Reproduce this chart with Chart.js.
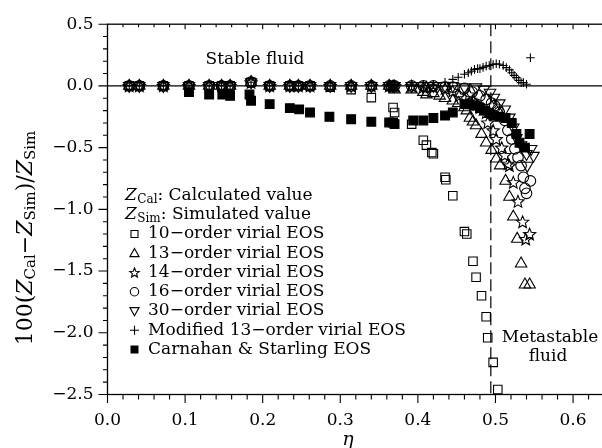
<!DOCTYPE html>
<html><head><meta charset="utf-8">
<script src="https://cdn.jsdelivr.net/npm/chart.js@4.4.0/dist/chart.umd.min.js"></script>
<style>html,body{margin:0;padding:0;background:#fff;overflow:hidden;width:602px;height:448px}canvas{display:block}</style>
</head><body><canvas id="c" width="612" height="448"></canvas>
<script>
// ---- data (η, 100(Zcal-Zsim)/Zsim) ----
const eta10 = [0.028,0.041,0.072,0.105,0.131,0.147,0.158,0.185,0.209,0.235,0.246,0.261,0.287,0.314,0.340,0.368,0.370,0.392,0.407,0.411,0.418,0.420,0.435,0.436,0.445,0.460,0.463,0.471,0.475,0.482,0.488,0.490,0.497,0.503];
const dev10 = [0,0,0,0,0,0,0,0.03,0,0,0,0,-0.01,-0.03,-0.095,-0.175,-0.215,-0.31,-0.44,-0.48,-0.54,-0.55,-0.74,-0.76,-0.89,-1.18,-1.20,-1.42,-1.55,-1.70,-1.87,-2.04,-2.24,-2.46];

const eta13 = [0.028,0.041,0.072,0.105,0.131,0.147,0.158,0.185,0.209,0.235,0.246,0.261,0.287,0.314,0.340,0.363,0.368,0.370,0.392,0.407,0.411,0.420,0.428,0.435,0.445,0.452,0.460,0.463,0.467,0.471,0.475,0.482,0.488,0.495,0.501,0.506,0.513,0.518,0.523,0.528,0.533,0.538,0.544];
const dev13 = [0,0,0,0,0,0,0,0.03,0,0,0,0,0,0,0,0,-0.01,-0.03,-0.03,-0.05,-0.07,-0.06,-0.08,-0.10,-0.12,-0.14,-0.175,-0.20,-0.26,-0.29,-0.32,-0.39,-0.46,-0.52,-0.59,-0.645,-0.77,-0.90,-1.06,-1.24,-1.44,-1.61,-1.61];

const eta14 = [0.028,0.041,0.072,0.105,0.131,0.147,0.158,0.185,0.209,0.235,0.246,0.261,0.287,0.314,0.340,0.363,0.368,0.370,0.392,0.407,0.411,0.420,0.435,0.445,0.453,0.460,0.466,0.471,0.476,0.480,0.484,0.488,0.490,0.497,0.501,0.508,0.512,0.516,0.518,0.523,0.529,0.535,0.539,0.544];
const dev14 = [0,0,0,0,0,0,0,0.03,0,0,0,0,0,0,0,0,0,0,0,-0.01,-0.01,-0.01,-0.02,-0.04,-0.08,-0.10,-0.07,-0.12,-0.15,-0.175,-0.19,-0.215,-0.296,-0.36,-0.43,-0.50,-0.56,-0.63,-0.645,-0.78,-0.935,-1.10,-1.24,-1.20];

const eta16 = [0.028,0.041,0.072,0.105,0.131,0.147,0.158,0.185,0.209,0.235,0.246,0.261,0.287,0.314,0.340,0.363,0.368,0.370,0.392,0.407,0.420,0.435,0.445,0.460,0.470,0.480,0.488,0.495,0.499,0.503,0.505,0.512,0.516,0.521,0.525,0.529,0.533,0.536,0.538,0.540,0.545];
const dev16 = [0,0,0,0,0,0,0,0.03,0,0,0,0,0,0,0,0,0,0,0,0,0,-0.01,-0.01,-0.02,-0.05,-0.08,-0.11,-0.14,-0.16,-0.19,-0.215,-0.28,-0.36,-0.43,-0.51,-0.58,-0.645,-0.74,-0.83,-0.87,-0.77];

const eta30 = [0.028,0.041,0.072,0.105,0.131,0.147,0.158,0.185,0.209,0.235,0.246,0.261,0.287,0.314,0.340,0.363,0.368,0.370,0.392,0.407,0.420,0.435,0.445,0.460,0.475,0.485,0.493,0.498,0.505,0.512,0.518,0.523,0.527,0.533,0.540,0.546,0.549,0.541];
const dev30 = [0,0,0,0,0,0,0,0.03,0,0,0,0,0,0,0,0,0,0,0,0,0,0,0,-0.01,-0.01,-0.03,-0.054,-0.094,-0.14,-0.19,-0.255,-0.336,-0.42,-0.48,-0.55,-0.51,-0.565,-0.645];

const etaMod = [0.028,0.041,0.072,0.105,0.131,0.147,0.158,0.185,0.209,0.235,0.246,0.261,0.287,0.314,0.340,0.363,0.368,0.370,0.392,0.407,0.420,0.435,0.445,0.452,0.460,0.465,0.469,0.473,0.477,0.480,0.484,0.488,0.492,0.497,0.501,0.505,0.510,0.514,0.518,0.521,0.524,0.527,0.530,0.533,0.536,0.540,0.545];
const devMod = [0,0,0,0,0,0,0,0.03,0,0,0,0,0,0,0,0,0,0,0,0.005,0.01,0.03,0.053,0.07,0.094,0.107,0.12,0.134,0.14,0.14,0.15,0.16,0.165,0.174,0.18,0.176,0.166,0.148,0.13,0.107,0.085,0.067,0.045,0.027,0.027,0.013,0.228];

const etaCS = [0.105,0.131,0.148,0.158,0.183,0.185,0.209,0.235,0.247,0.261,0.286,0.314,0.340,0.363,0.368,0.370,0.394,0.407,0.420,0.435,0.445,0.460,0.467,0.473,0.480,0.486,0.492,0.498,0.505,0.513,0.521,0.527,0.531,0.538,0.544];
const devCS = [-0.05,-0.07,-0.07,-0.08,-0.07,-0.12,-0.148,-0.18,-0.19,-0.215,-0.25,-0.27,-0.29,-0.296,-0.296,-0.31,-0.28,-0.28,-0.26,-0.24,-0.215,-0.148,-0.15,-0.16,-0.18,-0.20,-0.22,-0.24,-0.25,-0.26,-0.30,-0.39,-0.46,-0.50,-0.39];

const freezeEta = 0.494;
const legendLabels = ['10\u2212order virial EOS','13\u2212order virial EOS','14\u2212order virial EOS','16\u2212order virial EOS','30\u2212order virial EOS','Modified 13\u2212order virial EOS','Carnahan & Starling EOS'];

// ---- helpers ----
const SERIF = '"DejaVu Serif", serif';
const pts = (xs, ys) => xs.map((v, i) => ({x: v, y: ys[i]}));

function starPath(ctx, x, y, r){
  ctx.beginPath();
  for (let k = 0; k < 10; k++) {
    const a = -Math.PI/2 + k*Math.PI/5;
    const rr = k % 2 ? r*0.45 : r;
    ctx.lineTo(x + rr*Math.cos(a), y + rr*Math.sin(a));
  }
  ctx.closePath();
}

const STAR_INDEX = 2;
const base = {showLine:false, borderColor:'#000', borderWidth:1.1, backgroundColor:'rgba(0,0,0,0)'};
const datasets = [
  {...base, label:legendLabels[0], data:pts(eta10,dev10), pointStyle:'rect', pointRadius:6},
  {...base, label:legendLabels[1], data:pts(eta13,dev13), pointStyle:'triangle', pointRadius:6.6},
  {...base, label:legendLabels[2], data:pts(eta14,dev14), pointStyle:'circle', pointRadius:0, starRadius:6.4},
  {...base, label:legendLabels[3], data:pts(eta16,dev16), pointStyle:'circle', pointRadius:5.3},
  {...base, label:legendLabels[4], data:pts(eta30,dev30), pointStyle:'triangle', pointRotation:180, pointRadius:6.6},
  {...base, label:legendLabels[5], data:pts(etaMod,devMod), pointStyle:'cross', pointRadius:4.3},
  {...base, label:legendLabels[6], data:pts(etaCS,devCS), pointStyle:'rect', pointRadius:6.2, backgroundColor:'#000'}
];

function drawSub(ctx, x, y, main, sub, size, subSize, drop){
  ctx.font = 'italic ' + size + 'px ' + SERIF;
  ctx.fillText(main, x, y); x += ctx.measureText(main).width + 0.5;
  ctx.font = subSize + 'px ' + SERIF;
  ctx.fillText(sub, x, y + drop); x += ctx.measureText(sub).width;
  return x;
}

function legendSymbol(ctx, kind, x, y){
  ctx.save(); ctx.lineWidth = 1.1; ctx.strokeStyle = '#000'; ctx.fillStyle = '#000';
  ctx.beginPath();
  if (kind === 0) { ctx.rect(x-3.5, y-3.5, 7, 7); ctx.stroke(); }
  else if (kind === 1) { ctx.moveTo(x, y-4.8); ctx.lineTo(x+4.6, y+3.4); ctx.lineTo(x-4.6, y+3.4); ctx.closePath(); ctx.stroke(); }
  else if (kind === 2) { starPath(ctx, x, y+0.5, 5); ctx.stroke(); }
  else if (kind === 3) { ctx.arc(x, y, 4.2, 0, Math.PI*2); ctx.stroke(); }
  else if (kind === 4) { ctx.moveTo(x, y+4.8); ctx.lineTo(x+4.6, y-3.4); ctx.lineTo(x-4.6, y-3.4); ctx.closePath(); ctx.stroke(); }
  else if (kind === 5) { ctx.moveTo(x-4.5, y); ctx.lineTo(x+4.5, y); ctx.moveTo(x, y-4.5); ctx.lineTo(x, y+4.5); ctx.stroke(); }
  else { ctx.rect(x-4, y-4, 8, 8); ctx.fill(); }
  ctx.restore();
}

const decor = {
  id: 'decor',
  beforeDatasetsDraw(chart){
    const {ctx, chartArea:a, scales:{x, y}} = chart;
    ctx.save();
    ctx.strokeStyle = '#000'; ctx.lineWidth = 1.2;
    const y0 = y.getPixelForValue(0);
    ctx.beginPath(); ctx.moveTo(a.left, y0); ctx.lineTo(a.right, y0); ctx.stroke();
    const xd = x.getPixelForValue(freezeEta);
    ctx.setLineDash([12, 5]);
    ctx.beginPath(); ctx.moveTo(xd, a.top); ctx.lineTo(xd, a.bottom); ctx.stroke();
    ctx.restore();
  },
  afterDatasetDraw(chart, args){
    if (args.index !== STAR_INDEX) return;
    const ctx = chart.ctx;
    const ds = chart.data.datasets[STAR_INDEX];
    ctx.save();
    ctx.strokeStyle = '#000'; ctx.lineWidth = 1.1;
    args.meta.data.forEach(el => { starPath(ctx, el.x, el.y + 0.6, ds.starRadius); ctx.stroke(); });
    ctx.restore();
  },
  afterDraw(chart){
    const {ctx, chartArea:a, scales:{x, y}} = chart;
    ctx.save();
    ctx.strokeStyle = '#000'; ctx.lineWidth = 1.3;
    ctx.strokeRect(a.left, a.top, a.right - a.left, a.bottom - a.top);
    ctx.lineWidth = 1.1;
    ctx.beginPath();
    for (let i = 0; i <= 32; i++) {
      const px = x.getPixelForValue(i*0.02);
      const major = i % 5 === 0;
      ctx.moveTo(px, a.bottom); ctx.lineTo(px, a.bottom + (major ? 8.5 : 5));
      ctx.moveTo(px, a.top); ctx.lineTo(px, a.top + (major ? 5 : 3));
    }
    for (let i = -25; i <= 5; i++) {
      const py = y.getPixelForValue(i*0.1);
      const major = i % 5 === 0;
      ctx.moveTo(a.left, py); ctx.lineTo(a.left - (major ? 9 : 4.5), py);
    }
    ctx.stroke();

    ctx.fillStyle = '#000'; ctx.textBaseline = 'middle';
    ctx.font = '17px ' + SERIF;
    ctx.textAlign = 'center';
    ctx.fillText('Stable fluid', 255, 60);
    ctx.fillText('Metastable', 550, 338);
    ctx.fillText('fluid', 548, 357);

    // legend block
    ctx.textAlign = 'left';
    const ly = 195.5, step = 19.25;
    let xx = drawSub(ctx, 125, ly, 'Z', 'Cal', 17, 12, 4);
    ctx.font = '17px ' + SERIF; ctx.fillText(': Calculated value', xx, ly);
    xx = drawSub(ctx, 125, ly + step, 'Z', 'Sim', 17, 12, 4);
    ctx.font = '17px ' + SERIF; ctx.fillText(': Simulated value', xx, ly + step);
    legendLabels.forEach((t, k) => {
      const yy = ly + step*(k + 2);
      legendSymbol(ctx, k, 134.5, yy);
      ctx.font = '17px ' + SERIF; ctx.fillText(t, 148, yy);
    });

    // x title
    ctx.textAlign = 'center';
    ctx.font = 'italic 19px ' + SERIF;
    ctx.fillText('\u03b7', 348, 440);

    // y title (rotated)
    ctx.translate(26, 238); ctx.rotate(-Math.PI/2);
    ctx.textAlign = 'left';
    const M = 22, S = 15, D = 5.5;
    const segs = [['100(', 'n', M], ['Z', 'i', M], ['Cal', 's', S], ['\u2212', 'n', M], ['Z', 'i', M], ['Sim', 's', S], [')/', 'n', M], ['Z', 'i', M], ['Sim', 's', S]];
    const fontOf = s => (s[1] === 'i' ? 'italic ' : '') + s[2] + 'px ' + SERIF;
    let total = 0;
    segs.forEach(s => { ctx.font = fontOf(s); total += ctx.measureText(s[0]).width; });
    let cx = -total/2;
    segs.forEach(s => { ctx.font = fontOf(s); ctx.fillText(s[0], cx, s[1] === 's' ? D : 0); cx += ctx.measureText(s[0]).width; });
    ctx.restore();
  }
};

const W = 612;
new Chart(document.getElementById('c'), {
  type: 'scatter',
  data: {datasets},
  options: {
    responsive: false, animation: false,
    layout: {padding: {top: 21.5, right: W - 604.1, left: 0, bottom: 0}},
    plugins: {legend: {display: false}, tooltip: {enabled: false}},
    scales: {
      x: {type: 'linear', min: 0, max: 0.64,
          afterFit(s){ s.height = 53.5; },
          grid: {display: false, drawTicks: false}, border: {display: false},
          ticks: {stepSize: 0.1, includeBounds: false, autoSkip: false, maxRotation: 0, color: '#000', padding: 16,
                  font: {family: 'DejaVu Serif', size: 17}, callback: v => v.toFixed(1)}},
      y: {type: 'linear', min: -2.5, max: 0.5,
          afterFit(s){ s.width = 107.5; },
          grid: {display: false, drawTicks: false}, border: {display: false},
          ticks: {stepSize: 0.5, color: '#000', padding: 14,
                  font: {family: 'DejaVu Serif', size: 17}, callback: v => v.toFixed(1).replace('-', '\u2212')}}
    }
  },
  plugins: [decor]
});
</script></body></html>
